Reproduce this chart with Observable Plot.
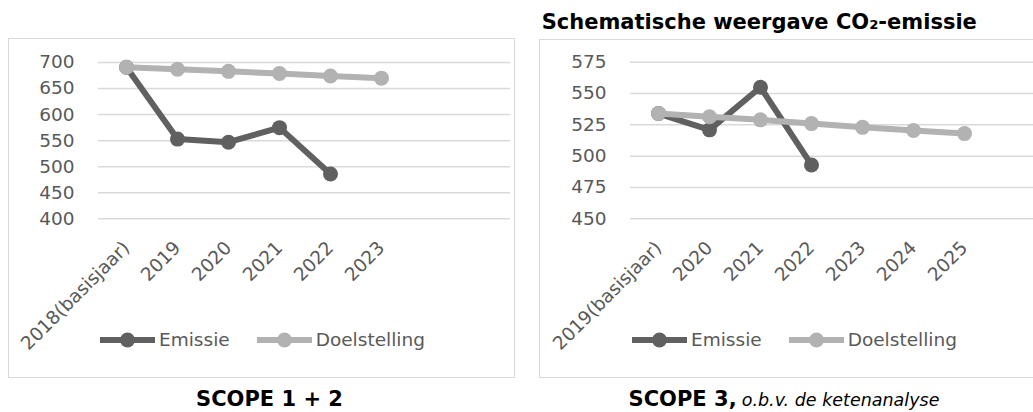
<!DOCTYPE html>
<html><head><meta charset="utf-8">
<script src="https://cdn.jsdelivr.net/npm/d3@7"></script>
<script src="https://cdn.jsdelivr.net/npm/@observablehq/plot@0.6"></script>
<style>
html,body{margin:0;padding:0;overflow:hidden;}
body{width:1033px;height:412px;position:relative;background:#fff;font-family:"DejaVu Sans",sans-serif;}
.panel{position:absolute;}
.panel svg{position:absolute;left:0;top:0;overflow:visible;}
.frame{position:absolute;left:0;top:0;right:0;bottom:0;border:1.5px solid #d9d9d9;pointer-events:none;}
.legend{position:absolute;display:flex;align-items:center;font-size:18.5px;color:#595959;line-height:1;white-space:nowrap;}
.legend .item{display:flex;align-items:center;margin-right:27px;}
.legend .item svg{position:static;margin-right:4px;}
.title{position:absolute;left:541.7px;top:12.2px;font-weight:bold;font-size:21px;line-height:1;color:#000;white-space:nowrap;}
.caption{position:absolute;top:389.2px;text-align:center;line-height:1;color:#000;white-space:nowrap;}
.caption b{font-size:21px;}
.caption i{font-size:17.5px;}
</style></head><body>
<div class="title" id="title"></div>
<div class="panel" id="p1" style="left:8px;top:38px;width:507px;height:340px;"><div class="frame"></div></div>
<div class="panel" id="p2" style="left:539px;top:39px;width:509px;height:339px;"><div class="frame"></div></div>
<div class="legend" id="lg1" style="left:100px;top:331px;"></div>
<div class="legend" id="lg2" style="left:632px;top:331px;"></div>
<div class="caption" style="left:0;width:539px;"><b>SCOPE 1 + 2</b></div>
<div class="caption" style="left:535px;width:498px;"><b>SCOPE 3,</b> <i>o.b.v. de ketenanalyse</i></div>
<script>
// ---- data ----
const titleText = "Schematische weergave CO₂-emissie";
const seriesNames = ["Emissie", "Doelstelling"];
const seriesColors = ["#606060", "#b2b2b2"];

const cats1 = ["2018(basisjaar)", "2019", "2020", "2021", "2022", "2023"];
const emissie1 = [691, 553, 547, 575, 486];
const doel1 = [691, 687, 683, 679, 674, 670];
const yTicks1 = [400, 450, 500, 550, 600, 650, 700];

const cats2 = ["2019(basisjaar)", "2020", "2021", "2022", "2023", "2024", "2025"];
const emissie2 = [534, 521, 555, 493];
const doel2 = [534, 531.5, 529, 526, 523, 520.5, 518];
const yTicks2 = [450, 475, 500, 525, 550, 575];

const slots = 8; // category slots on the axis (Excel leaves empty slots)

document.getElementById("title").textContent = titleText;

function rows(cats, a, b) {
  const r = [];
  a.forEach((v, i) => r.push({cat: cats[i], value: v, s: seriesNames[0]}));
  b.forEach((v, i) => r.push({cat: cats[i], value: v, s: seriesNames[1]}));
  return r;
}

function makeChart(cats, em, doel, yTicks, opts) {
  const domain = cats.slice();
  for (let i = cats.length; i < slots; i++) domain.push("__empty" + i);
  const data = rows(cats, em, doel);
  const marks = [
    Plot.ruleY(yTicks, {stroke: "#d9d9d9", strokeWidth: 1.5}),
    Plot.axisY(yTicks, {tickSize: 0, tickPadding: 24, label: null, fill: "#595959", fontSize: 18.5}),
    Plot.text(cats, {x: d => d, text: d => d, frameAnchor: "bottom", dy: 26, rotate: -45,
      textAnchor: "end", lineAnchor: "middle", fill: "#595959", fontSize: 18.5})
  ];
  seriesNames.forEach((s, k) => {
    const d = data.filter(r => r.s === s);
    marks.push(Plot.line(d, {x: "cat", y: "value", stroke: seriesColors[k], strokeWidth: 6}));
    marks.push(Plot.dot(d, {x: "cat", y: "value", r: 7.5, fill: seriesColors[k], stroke: "none"}));
  });
  return Plot.plot({
    width: opts.width, height: opts.height,
    marginLeft: opts.ml, marginRight: opts.mr, marginTop: opts.mt, marginBottom: opts.mb,
    style: {fontFamily: "DejaVu Sans", fontSize: "18.5px", color: "#595959", background: "transparent", overflow: "visible"},
    x: {type: "point", domain, padding: 0.5, axis: null},
    y: {domain: opts.ydomain, axis: null},
    marks
  });
}

document.getElementById("p1").prepend(makeChart(cats1, emissie1, doel1, yTicks1,
  {width: 507, height: 340, ml: 90, mr: 5, mt: 24, mb: 159.7, ydomain: [400, 700]}));
document.getElementById("p2").prepend(makeChart(cats2, emissie2, doel2, yTicks2,
  {width: 509, height: 339, ml: 91, mr: 5, mt: 22.7, mb: 159.7, ydomain: [450, 575]}));

function legend(el) {
  seriesNames.forEach((s, k) => {
    const item = document.createElement("div");
    item.className = "item";
    item.innerHTML = `<svg width="55" height="16"><line x1="0" x2="55" y1="8" y2="8" stroke="${seriesColors[k]}" stroke-width="6"/><circle cx="27.5" cy="8" r="7.5" fill="${seriesColors[k]}"/></svg><span>${s}</span>`;
    el.appendChild(item);
  });
}
legend(document.getElementById("lg1"));
legend(document.getElementById("lg2"));
</script>
</body></html>
